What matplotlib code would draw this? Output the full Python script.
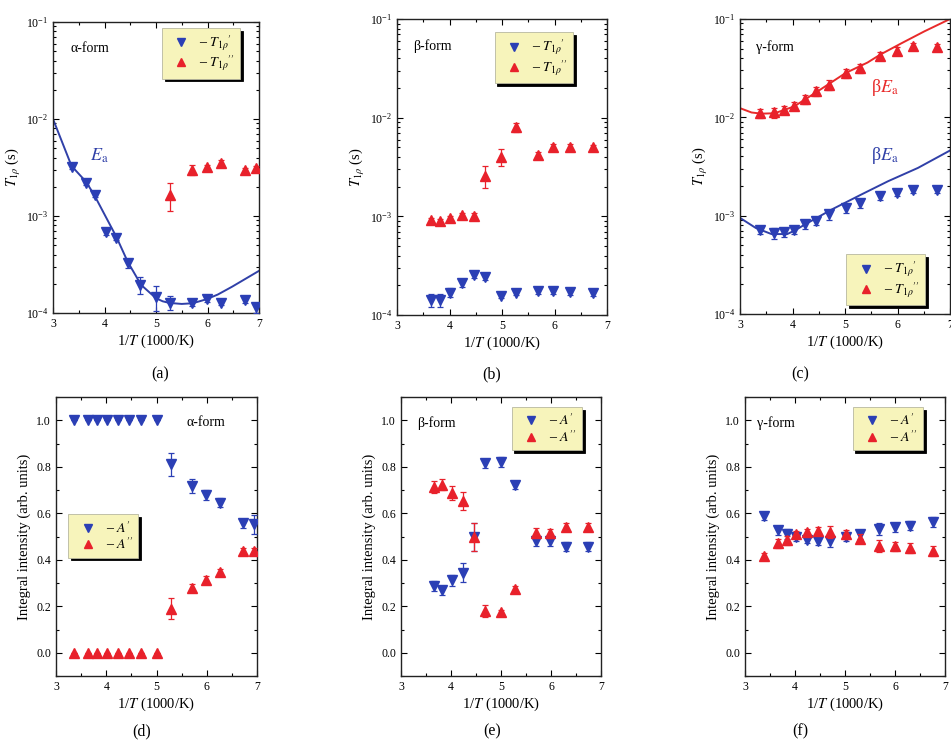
import matplotlib

matplotlib.use("Agg")
import matplotlib.pyplot as plt
from matplotlib.lines import Line2D
from matplotlib.ticker import MultipleLocator, LogLocator, NullFormatter, FormatStrFormatter

plt.rcParams["font.family"] = ["Liberation Serif", "DejaVu Serif"]
plt.rcParams["mathtext.fontset"] = "stix"

BLUE = "#2b3fb5"
RED = "#e8212b"
LINE_BLUE = "#3040a8"
LINE_RED = "#e82a2a"
LEGEND_FACE = "#f7f4bb"

# --- alpha-form -------------------------------------------------------------
x_alpha = [3.36, 3.64, 3.82, 4.02, 4.23, 4.46, 4.69, 5.00, 5.28, 5.70, 5.99, 6.27, 6.73, 6.94]
t1_alpha_1 = [3.2e-3, 2.2e-3, 1.65e-3, 6.9e-4, 6.0e-4, 3.25e-4, 1.95e-4, 1.47e-4,
              1.28e-4, 1.26e-4, 1.38e-4, 1.28e-4, 1.35e-4, 1.14e-4]
t1_alpha_1_rel = [0.05, 0.05, 0.05, 0.07, 0.06, 0.1, 0.2, 0.28, 0.17, 0.06, 0.06, 0.05, 0.07, 0.12]
x_alpha_2 = [5.27, 5.70, 5.99, 6.27, 6.73, 6.94]
t1_alpha_2 = [1.65e-3, 2.98e-3, 3.18e-3, 3.55e-3, 3.0e-3, 3.1e-3]
t1_alpha_2_rel = [0.32, 0.12, 0.06, 0.06, 0.05, 0.05]
fit_alpha_x = [3.0, 3.36, 3.64, 3.80, 4.23, 4.45, 4.71, 5.0, 5.13, 5.26, 5.5, 5.71, 5.97, 6.2, 6.48, 7.0]
fit_alpha_y = [1.0e-2, 3.28e-3, 2.26e-3, 1.65e-3, 6.1e-4, 3.38e-4, 1.95e-4, 1.42e-4, 1.32e-4,
               1.27e-4, 1.24e-4, 1.26e-4, 1.38e-4, 1.55e-4, 1.87e-4, 2.72e-4]
a1_alpha = [1.0, 1.0, 1.0, 1.0, 1.0, 1.0, 1.0, 1.0, 0.81, 0.716, 0.678, 0.645, 0.556, 0.552]
a1_alpha_err = [0, 0, 0, 0, 0, 0, 0, 0, 0.05, 0.03, 0.02, 0.02, 0.02, 0.04]
a2_alpha = [0.0, 0.0, 0.0, 0.0, 0.0, 0.0, 0.0, 0.0, 0.189, 0.279, 0.315, 0.347, 0.437, 0.437]
a2_alpha_err = [0, 0, 0, 0, 0, 0, 0, 0, 0.045, 0.015, 0.015, 0.015, 0.015, 0.015]

# --- beta-form --------------------------------------------------------------
x_beta = [3.65, 3.82, 4.01, 4.23, 4.46, 4.67, 4.99, 5.27, 5.69, 5.97, 6.29, 6.73]
t1_beta_1 = [1.42e-4, 1.42e-4, 1.69e-4, 2.13e-4, 2.55e-4, 2.41e-4, 1.56e-4, 1.69e-4,
             1.75e-4, 1.75e-4, 1.73e-4, 1.69e-4]
t1_beta_1_rel = [0.15, 0.15, 0.1, 0.1, 0.08, 0.05, 0.05, 0.06, 0.07, 0.07, 0.08, 0.08]
t1_beta_2 = [9.2e-4, 9.0e-4, 9.6e-4, 1.03e-3, 1.01e-3, 2.58e-3, 4.04e-3, 7.96e-3,
             4.2e-3, 5.1e-3, 5.1e-3, 5.0e-3]
t1_beta_2_rel = [0.05, 0.05, 0.05, 0.05, 0.07, 0.25, 0.2, 0.1, 0.07, 0.06, 0.05, 0.05]
a1_beta = [0.287, 0.269, 0.311, 0.344, 0.499, 0.814, 0.82, 0.721, 0.48, 0.48, 0.456, 0.456]
a1_beta_err = [0.02, 0.02, 0.025, 0.04, 0.06, 0.02, 0.02, 0.015, 0.02, 0.02, 0.02, 0.02]
a2_beta = [0.713, 0.723, 0.688, 0.652, 0.499, 0.179, 0.176, 0.275, 0.516, 0.513, 0.542, 0.542]
a2_beta_err = [0.025, 0.025, 0.03, 0.04, 0.06, 0.025, 0.01, 0.01, 0.02, 0.02, 0.015, 0.015]

# --- gamma-form -------------------------------------------------------------
x_gamma = [3.38, 3.65, 3.83, 4.02, 4.24, 4.45, 4.70, 5.01, 5.29, 5.67, 5.99, 6.30, 6.75]
t1_gamma_1 = [7.16e-4, 6.63e-4, 6.8e-4, 7.16e-4, 8.18e-4, 8.9e-4, 1.03e-3, 1.19e-3,
              1.34e-3, 1.6e-3, 1.72e-3, 1.83e-3, 1.83e-3]
t1_gamma_2 = [1.1e-2, 1.12e-2, 1.19e-2, 1.31e-2, 1.53e-2, 1.84e-2, 2.15e-2, 2.82e-2,
              3.17e-2, 4.23e-2, 4.76e-2, 5.27e-2, 5.15e-2]
t1_gamma_rel = [0.1, 0.12, 0.1, 0.1, 0.1, 0.1, 0.12, 0.1, 0.1, 0.1, 0.08, 0.08, 0.08]
fit_gamma_2_x = [3.0, 3.22, 3.41, 3.66, 4.03, 4.46, 5.01, 5.43, 5.67, 6.06, 6.51, 7.0]
fit_gamma_2 = [1.24e-2, 1.12e-2, 1.09e-2, 1.10e-2, 1.29e-2, 1.81e-2, 2.82e-2, 3.61e-2,
               4.34e-2, 5.61e-2, 7.48e-2, 1.0e-1]
fit_gamma_1_x = [3.0, 3.3, 3.6, 3.9, 4.05, 4.23, 4.74, 5.31, 5.82, 6.39, 7.0]
fit_gamma_1 = [9.5e-4, 7.5e-4, 6.5e-4, 6.5e-4, 7.1e-4, 8.1e-4, 1.15e-3, 1.64e-3,
               2.24e-3, 3.06e-3, 4.6e-3]
a1_gamma = [0.587, 0.526, 0.511, 0.497, 0.487, 0.48, 0.48, 0.499, 0.509, 0.533, 0.54, 0.547, 0.562]
a2_gamma = [0.415, 0.47, 0.484, 0.509, 0.519, 0.524, 0.519, 0.509, 0.49, 0.458, 0.458, 0.451, 0.437]
a_gamma_err = [0.015, 0.02, 0.02, 0.015, 0.015, 0.015, 0.025, 0.02, 0.02, 0.025, 0.02, 0.02, 0.02]

W, H = 951, 743
# axes boxes in pixels: left, right, top, bottom
boxes = {
    "a": (53, 259, 22, 313),
    "b": (397, 607, 19, 315),
    "c": (740, 950, 19, 314),
    "d": (56, 257, 397, 676),
    "e": (401, 601, 397, 676),
    "f": (745, 945, 397, 676),
}

fig = plt.figure(figsize=(W / 100, H / 100), dpi=100)
axes = {}
for key, (l, r, t, b) in boxes.items():
    axes[key] = fig.add_axes([l / W, 1 - b / H, (r - l) / W, (b - t) / H])


def style(ax, log):
    ax.set_xlim(3, 7)
    ax.xaxis.set_major_locator(MultipleLocator(1))
    ax.xaxis.set_minor_locator(MultipleLocator(0.5))
    if log:
        ax.set_yscale("log")
        ax.set_ylim(1e-4, 1e-1)
        ax.yaxis.set_major_locator(LogLocator(base=10, numticks=10))
        ax.yaxis.set_minor_locator(LogLocator(base=10, subs=range(2, 10), numticks=10))
        ax.yaxis.set_minor_formatter(NullFormatter())
        ax.set_ylabel(r"$T_{1\rho}$ (s)", fontsize=10.5, labelpad=2)
    else:
        ax.set_ylim(-0.1, 1.1)
        ax.yaxis.set_major_locator(MultipleLocator(0.2))
        ax.yaxis.set_minor_locator(MultipleLocator(0.1))
        ax.yaxis.set_major_formatter(FormatStrFormatter("%.1f"))
        ax.set_ylabel("Integral intensity (arb. units)", fontsize=10.5, labelpad=4)
    ax.tick_params(which="both", direction="in", top=True, right=True, labelsize=8.5, width=0.8)
    ax.tick_params(which="major", length=4)
    ax.tick_params(which="minor", length=2)
    ax.set_xlabel(r"1/$T$ (1000/K)", fontsize=10.5, labelpad=2)
    for s in ax.spines.values():
        s.set_linewidth(1.0)
        s.set_color("#222222")


def points(ax, x, y, err, marker, color, z=3):
    ax.errorbar(x, y, yerr=err, fmt=marker, color=color, ms=6.5, mec=color,
                ecolor=color, elinewidth=0.9, capsize=2.5, capthick=0.9, zorder=z)


def legend(ax, labels, loc, anchor):
    handles = [Line2D([], [], ls="none", marker="v", color=BLUE, ms=6),
               Line2D([], [], ls="none", marker="^", color=RED, ms=6)]
    leg = ax.legend(handles, labels, loc=loc, bbox_to_anchor=anchor, fontsize=10,
                    frameon=True, fancybox=False, facecolor=LEGEND_FACE, edgecolor="#b8b8a0",
                    framealpha=1, shadow={"color": "black", "alpha": 1},
                    handlelength=2.0, handletextpad=0.3, borderpad=0.4, labelspacing=0.05,
                    borderaxespad=0)
    leg.get_frame().set_linewidth(0.6)


t_labels = [r"– $T_{1\rho}{}'$", r"– $T_{1\rho}{}''$"]
a_labels = [r"– $A'$", r"– $A''$"]

# (a)
ax = axes["a"]
style(ax, True)
ax.plot(fit_alpha_x, fit_alpha_y, color=LINE_BLUE, lw=1.4, zorder=2)
points(ax, x_alpha, t1_alpha_1, [v * r for v, r in zip(t1_alpha_1, t1_alpha_1_rel)], "v", BLUE)
points(ax, x_alpha_2, t1_alpha_2, [v * r for v, r in zip(t1_alpha_2, t1_alpha_2_rel)], "^", RED)
ax.text(3.72, 4.2e-3, r"$E_{\rm a}$", color=LINE_BLUE, fontsize=13, ha="left", va="center")
ax.text(0.083, 0.91, "α-form", transform=ax.transAxes, fontsize=10, va="center")
legend(ax, t_labels, "upper right", (0.91, 0.98))

# (b)
ax = axes["b"]
style(ax, True)
points(ax, x_beta, t1_beta_1, [v * r for v, r in zip(t1_beta_1, t1_beta_1_rel)], "v", BLUE)
points(ax, x_beta, t1_beta_2, [v * r for v, r in zip(t1_beta_2, t1_beta_2_rel)], "^", RED)
ax.text(0.076, 0.909, "β-form", transform=ax.transAxes, fontsize=10, va="center")
legend(ax, t_labels, "upper right", (0.84, 0.955))

# (c)
ax = axes["c"]
style(ax, True)
ax.plot(fit_gamma_2_x, fit_gamma_2, color=LINE_RED, lw=1.4, zorder=2)
ax.plot(fit_gamma_1_x, fit_gamma_1, color=LINE_BLUE, lw=1.4, zorder=2)
points(ax, x_gamma, t1_gamma_2, [v * r for v, r in zip(t1_gamma_2, t1_gamma_rel)], "^", RED)
points(ax, x_gamma, t1_gamma_1, [v * r for v, r in zip(t1_gamma_1, t1_gamma_rel)], "v", BLUE)
ax.text(5.5, 2.0e-2, r"β$E_{\rm a}$", color=LINE_RED, fontsize=13, ha="left", va="center")
ax.text(5.5, 4.1e-3, r"β$E_{\rm a}$", color=LINE_BLUE, fontsize=13, ha="left", va="center")
ax.text(0.076, 0.905, "γ-form", transform=ax.transAxes, fontsize=10, va="center")
legend(ax, t_labels, "lower right", (0.88, 0.03))

# (d)
ax = axes["d"]
style(ax, False)
points(ax, x_alpha, a1_alpha, a1_alpha_err, "v", BLUE)
points(ax, x_alpha, a2_alpha, a2_alpha_err, "^", RED)
ax.text(0.65, 0.91, "α-form", transform=ax.transAxes, fontsize=10, va="center")
legend(ax, a_labels, "upper left", (0.06, 0.58))

# (e)
ax = axes["e"]
style(ax, False)
points(ax, x_beta, a1_beta, a1_beta_err, "v", BLUE)
points(ax, x_beta, a2_beta, a2_beta_err, "^", RED, z=4)
ax.text(0.08, 0.907, "β-form", transform=ax.transAxes, fontsize=10, va="center")
legend(ax, a_labels, "upper right", (0.905, 0.965))

# (f)
ax = axes["f"]
style(ax, False)
points(ax, x_gamma, a1_gamma, a_gamma_err, "v", BLUE)
points(ax, x_gamma, a2_gamma, a_gamma_err, "^", RED, z=4)
ax.text(0.06, 0.907, "γ-form", transform=ax.transAxes, fontsize=10, va="center")
legend(ax, a_labels, "upper right", (0.89, 0.965))

# panel captions
for key, (px, py) in {"a": (160, 374), "b": (492, 374), "c": (800, 374),
                      "d": (142, 731), "e": (492, 731), "f": (800, 731)}.items():
    fig.text(px / W, 1 - py / H, f"({key})", fontsize=11.5, ha="center", va="center")

fig.savefig("out.png", dpi=100, facecolor="white")
